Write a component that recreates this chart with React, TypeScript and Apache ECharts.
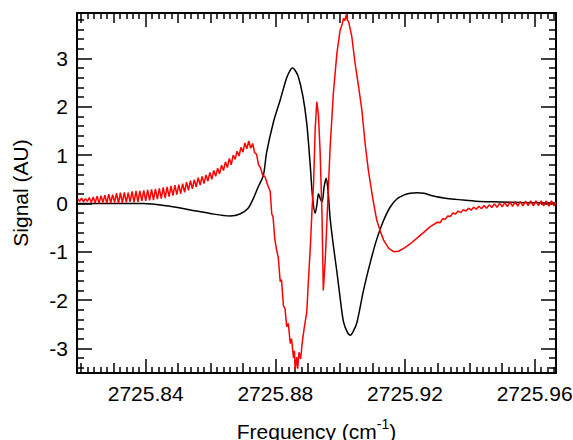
import React, { useEffect, useRef } from "react";
import * as echarts from "echarts";

// Axis ranges
const X_MIN = 2725.8188;
const X_MAX = 2725.9666;
const Y_MIN = -3.51;
const Y_MAX = 3.94;

// Tick values
const X_LABEL_TICKS = [2725.84, 2725.88, 2725.92, 2725.96];
const X_MID_TICKS = [
  2725.82, 2725.83, 2725.84, 2725.85, 2725.86, 2725.87, 2725.88, 2725.89,
  2725.9, 2725.91, 2725.92, 2725.93, 2725.94, 2725.95, 2725.96,
];
const Y_LABEL_TICKS = [-3, -2, -1, 0, 1, 2, 3];

// Black series (frequency, signal)
const BLACK_POINTS: [number, number][] = [
  [2725.8188, 0], [2725.8259, 0], [2725.833, 0], [2725.8392, 0],
  [2725.8475, -0.06], [2725.8542, -0.14], [2725.8599, -0.21], [2725.866, -0.26],
  [2725.8691, -0.22], [2725.8716, -0.1], [2725.8732, 0.1], [2725.8747, 0.34],
  [2725.8763, 0.58], [2725.8773, 1.05], [2725.8794, 1.68], [2725.8815, 2.14],
  [2725.8835, 2.6], [2725.8847, 2.77], [2725.8853, 2.8], [2725.8859, 2.77],
  [2725.887, 2.64], [2725.8885, 2.22], [2725.8897, 1.65], [2725.8907, 0.85],
  [2725.8915, 0.12], [2725.8923, -0.2], [2725.8928, -0.04], [2725.8933, 0.2],
  [2725.8938, 0.11], [2725.8944, 0.03], [2725.8951, 0.36], [2725.8957, 0.52],
  [2725.8963, 0.23], [2725.8969, -0.3], [2725.8978, -0.82], [2725.899, -1.42],
  [2725.9, -1.96], [2725.901, -2.44], [2725.9021, -2.65], [2725.9031, -2.73],
  [2725.9041, -2.64], [2725.9052, -2.46], [2725.9072, -1.8], [2725.9093, -1.22],
  [2725.9113, -0.74], [2725.9133, -0.37], [2725.9154, -0.08], [2725.9175, 0.09],
  [2725.9196, 0.17], [2725.9216, 0.21], [2725.9237, 0.22], [2725.9258, 0.21],
  [2725.9278, 0.17], [2725.933, 0.1], [2725.938, 0.07], [2725.9432, 0.04],
  [2725.9494, 0.03], [2725.9556, 0.02], [2725.9666, 0.01],
];

// Red series (frequency, signal)
const RED_POINTS: [number, number][] = [
  [2725.819, 0.1], [2725.8196, 0.04], [2725.8202, 0.11], [2725.8208, 0.03],
  [2725.8214, 0.1], [2725.822, 0.04], [2725.8226, 0.12], [2725.8232, 0.02],
  [2725.8238, 0.13], [2725.8244, 0.01], [2725.825, 0.15], [2725.8256, 0.0],
  [2725.8262, 0.16], [2725.8268, 0.02], [2725.8274, 0.17], [2725.828, 0.0],
  [2725.8286, 0.19], [2725.8292, 0.01], [2725.8298, 0.18], [2725.8304, 0.02],
  [2725.831, 0.21], [2725.8316, 0.0], [2725.8322, 0.22], [2725.8328, 0.01],
  [2725.8334, 0.23], [2725.834, 0.02], [2725.8346, 0.22], [2725.8352, 0.03],
  [2725.8358, 0.25], [2725.8364, 0.02], [2725.837, 0.26], [2725.8376, 0.03],
  [2725.8382, 0.26], [2725.8388, 0.05], [2725.8394, 0.27], [2725.84, 0.05],
  [2725.8406, 0.28], [2725.8412, 0.06], [2725.8418, 0.29], [2725.8424, 0.07],
  [2725.843, 0.3], [2725.8436, 0.09], [2725.8442, 0.31], [2725.8448, 0.1],
  [2725.8454, 0.33], [2725.846, 0.11], [2725.8466, 0.34], [2725.8472, 0.14],
  [2725.8478, 0.36], [2725.8484, 0.16], [2725.849, 0.38], [2725.8496, 0.18],
  [2725.8502, 0.39], [2725.8508, 0.2], [2725.8514, 0.41], [2725.852, 0.23],
  [2725.8526, 0.44], [2725.8532, 0.27], [2725.8538, 0.47], [2725.8544, 0.3],
  [2725.855, 0.49], [2725.8556, 0.34], [2725.8562, 0.53], [2725.8568, 0.38],
  [2725.8574, 0.56], [2725.858, 0.41], [2725.8586, 0.59], [2725.8592, 0.46],
  [2725.8598, 0.64], [2725.8604, 0.5], [2725.861, 0.68], [2725.8616, 0.56],
  [2725.8622, 0.73], [2725.8628, 0.61], [2725.8634, 0.79], [2725.864, 0.68],
  [2725.8646, 0.86], [2725.8652, 0.74], [2725.8658, 0.93], [2725.8664, 0.8],
  [2725.867, 1.0], [2725.8676, 0.91], [2725.8682, 1.08], [2725.8688, 0.98],
  [2725.8694, 1.16], [2725.87, 1.06], [2725.8706, 1.25], [2725.8712, 1.13],
  [2725.8718, 1.29], [2725.8724, 1.14], [2725.873, 1.24], [2725.8736, 1.05],
  [2725.8742, 1.02], [2725.8748, 0.8], [2725.8754, 0.74], [2725.876, 0.6],
  [2725.8768, 0.55], [2725.8778, 0.35], [2725.8784, 0.25], [2725.8789, -0.22],
  [2725.8793, -0.28], [2725.8798, -0.72], [2725.8804, -0.97], [2725.8809, -1.12],
  [2725.8815, -1.62], [2725.8819, -1.58], [2725.8825, -2.12], [2725.883, -2.18],
  [2725.8835, -2.55], [2725.884, -2.48], [2725.8846, -2.9], [2725.885, -2.8],
  [2725.8856, -3.2], [2725.8859, -3.05], [2725.8861, -3.45], [2725.8866, -3.18],
  [2725.8869, -3.42], [2725.8873, -3.08], [2725.8878, -3.22], [2725.8883, -2.88],
  [2725.8889, -2.58], [2725.8897, -2.25], [2725.8902, -1.6], [2725.8908, -0.9],
  [2725.8913, -0.15], [2725.8918, 0.41], [2725.8923, 1.56], [2725.8928, 2.1],
  [2725.8933, 1.83], [2725.8938, 1.1], [2725.8944, -0.24], [2725.8948, -1.8],
  [2725.8954, -1.17], [2725.8961, -0.08], [2725.8969, 1.15], [2725.8979, 2.28],
  [2725.899, 3.11], [2725.9, 3.59], [2725.9006, 3.7], [2725.901, 3.83],
  [2725.9014, 3.78], [2725.9019, 3.9], [2725.9022, 3.8], [2725.9026, 3.76],
  [2725.9036, 3.45], [2725.9046, 2.9], [2725.9057, 2.41], [2725.9067, 1.93],
  [2725.9077, 1.24], [2725.9087, 0.69], [2725.9098, 0.21], [2725.9106, -0.1],
  [2725.9113, -0.35], [2725.9124, -0.58], [2725.9134, -0.76], [2725.915, -0.93],
  [2725.9165, -1.0], [2725.918, -0.99], [2725.9196, -0.93], [2725.9216, -0.84],
  [2725.9237, -0.72], [2725.9258, -0.6], [2725.9278, -0.48],
  [2725.93, -0.39], [2725.9308, -0.4], [2725.9316, -0.32], [2725.9324, -0.33],
  [2725.9332, -0.26], [2725.934, -0.27], [2725.9348, -0.2], [2725.9356, -0.22],
  [2725.9364, -0.16], [2725.9372, -0.19], [2725.938, -0.13], [2725.9388, -0.16],
  [2725.9396, -0.1], [2725.9404, -0.14], [2725.9412, -0.08], [2725.942, -0.12],
  [2725.9428, -0.06], [2725.9436, -0.11], [2725.9444, -0.045], [2725.9452, -0.1],
  [2725.946, -0.03], [2725.9468, -0.085], [2725.9476, -0.01], [2725.9484, -0.08],
  [2725.9492, 0.005], [2725.95, -0.07], [2725.9508, 0.015], [2725.9516, -0.065],
  [2725.9524, 0.03], [2725.9532, -0.06], [2725.954, 0.035], [2725.9548, -0.055],
  [2725.9556, 0.04], [2725.9564, -0.05], [2725.9572, 0.045], [2725.958, -0.045],
  [2725.9588, 0.05], [2725.9596, -0.05], [2725.9604, 0.05], [2725.9612, -0.045],
  [2725.962, 0.055], [2725.9628, -0.05], [2725.9636, 0.05], [2725.9644, -0.055],
  [2725.9652, 0.055], [2725.966, -0.05], [2725.9666, 0.03],
];

const FONT = "'Liberation Sans', Arial, sans-serif";
const FS = 21;

function buildMinor(start: number, end: number, step: number, skip: number[]) {
  const out: number[] = [];
  const n = Math.round((end - start) / step);
  for (let i = 0; i <= n; i++) {
    const v = +(start + i * step).toFixed(4);
    if (!skip.some((s) => Math.abs(s - v) < 1e-6)) out.push(v);
  }
  return out;
}

export default function App() {
  const ref = useRef<HTMLDivElement>(null);

  useEffect(() => {
    if (!ref.current) return;
    const chart = echarts.init(ref.current, null, { renderer: "svg" });

    const xMinor = buildMinor(2725.82, 2725.966, 0.002, X_MID_TICKS);
    const xMid = X_MID_TICKS.filter((v) => !X_LABEL_TICKS.includes(v));
    const yMinor = buildMinor(-3.4, 3.8, 0.2, Y_LABEL_TICKS);

    const tickStyle = { color: "#000", width: 1.5 };

    const mkX = (
      position: "bottom" | "top",
      ticks: number[],
      len: number,
      opts: any = {}
    ) => ({
      type: "value",
      position,
      min: X_MIN,
      max: X_MAX,
      splitLine: { show: false },
      axisLine: { show: false, onZero: false },
      axisTick: { show: true, inside: true, length: len, customValues: ticks, lineStyle: tickStyle },
      axisLabel: { show: false },
      ...opts,
    });
    const mkY = (
      position: "left" | "right",
      ticks: number[],
      len: number,
      opts: any = {}
    ) => ({
      type: "value",
      position,
      min: Y_MIN,
      max: Y_MAX,
      splitLine: { show: false },
      axisLine: { show: false, onZero: false },
      axisTick: { show: true, inside: true, length: len, customValues: ticks, lineStyle: tickStyle },
      axisLabel: { show: false },
      ...opts,
    });

    chart.setOption({
      animation: false,
      backgroundColor: "#fff",
      grid: {
        left: 77,
        right: 17,
        top: 13,
        bottom: 67,
        containLabel: false,
        outerBoundsMode: "none",
      },
      xAxis: [
        mkX("bottom", X_LABEL_TICKS, 14, {
          axisLine: { show: true, onZero: false, lineStyle: { color: "#000", width: 2 } },
          axisLabel: {
            show: true,
            customValues: X_LABEL_TICKS,
            margin: 10,
            color: "#000",
            fontSize: FS,
            fontFamily: FONT,
            formatter: (v: number) => v.toFixed(2),
          },
          name: "Frequency (cm{sup|-1})",
          nameLocation: "middle",
          nameGap: 44,
          nameTextStyle: {
            color: "#000",
            fontSize: FS,
            fontFamily: FONT,
            rich: {
              sup: { fontSize: 14, fontFamily: FONT, color: "#000", verticalAlign: "bottom", padding: [0, 0, 14, 0] },
            },
          },
        }),
        mkX("bottom", xMid, 10),
        mkX("bottom", xMinor, 6),
        mkX("top", X_LABEL_TICKS, 14, {
          axisLine: { show: true, onZero: false, lineStyle: { color: "#000", width: 2 } },
        }),
        mkX("top", xMid, 10),
        mkX("top", xMinor, 6),
      ],
      yAxis: [
        mkY("left", Y_LABEL_TICKS, 15, {
          axisLine: { show: true, onZero: false, lineStyle: { color: "#000", width: 2 } },
          axisLabel: {
            show: true,
            customValues: Y_LABEL_TICKS,
            margin: 9,
            color: "#000",
            fontSize: FS,
            fontFamily: FONT,
          },
          name: "Signal (AU)",
          nameLocation: "middle",
          nameGap: 46,
          nameTextStyle: { color: "#000", fontSize: FS, fontFamily: FONT },
        }),
        mkY("left", yMinor, 7),
        mkY("right", Y_LABEL_TICKS, 15, {
          axisLine: { show: true, onZero: false, lineStyle: { color: "#000", width: 2 } },
        }),
        mkY("right", yMinor, 7),
      ],
      series: [
        {
          name: "black",
          type: "line",
          xAxisIndex: 0,
          yAxisIndex: 0,
          data: BLACK_POINTS,
          showSymbol: false,
          symbol: "none",
          smooth: 0.3,
          lineStyle: { color: "#000", width: 1.5 },
        },
        {
          name: "red",
          type: "line",
          xAxisIndex: 0,
          yAxisIndex: 0,
          data: RED_POINTS,
          showSymbol: false,
          symbol: "none",
          lineStyle: { color: "#ff0000", width: 1.5 },
        },
      ],
    });

    return () => chart.dispose();
  }, []);

  return (
    <div
      ref={ref}
      style={{ position: "absolute", left: 0, top: 0, width: 573, height: 440 }}
    />
  );
}
